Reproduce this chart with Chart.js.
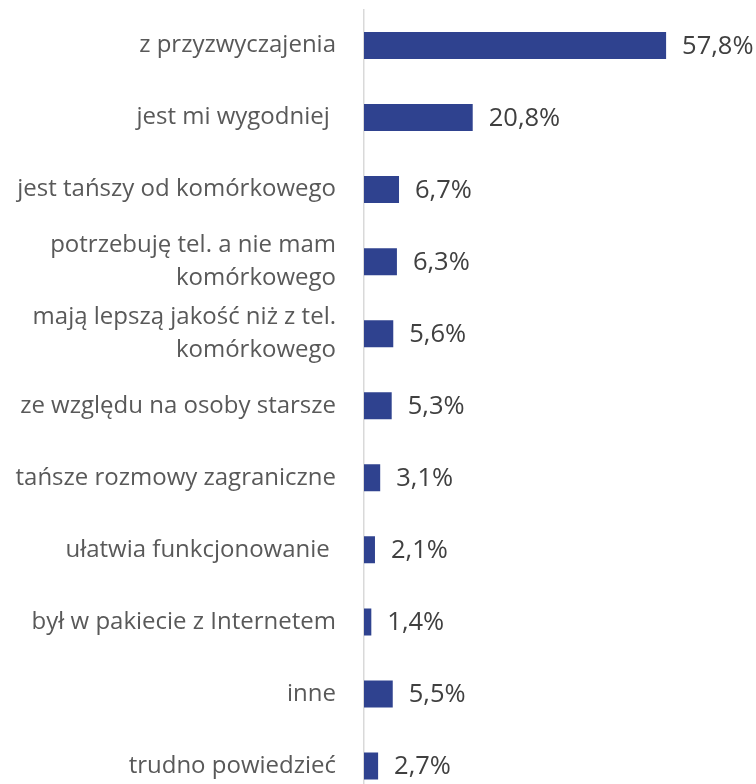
<!DOCTYPE html>
<html lang="pl">
<head>
<meta charset="utf-8">
<title>Powody posiadania telefonu stacjonarnego</title>
<script src="https://cdn.jsdelivr.net/npm/chart.js@4/dist/chart.umd.min.js"></script>
<style>
  html, body { margin: 0; padding: 0; background: #ffffff; overflow: hidden; }
  #wrap { position: relative; width: 756px; height: 802px; }
</style>
</head>
<body>
<div id="wrap"><canvas id="chart"></canvas></div>
<script>
// Category labels (multi-line entries given as arrays)
const categories = [
  'z przyzwyczajenia',
  'jest mi wygodniej ',
  'jest tańszy od komórkowego',
  ['potrzebuję tel. a nie mam', 'komórkowego'],
  ['mają lepszą jakość niż z tel.', 'komórkowego'],
  'ze względu na osoby starsze',
  'tańsze rozmowy zagraniczne',
  'ułatwia funkcjonowanie ',
  'był w pakiecie z Internetem',
  'inne',
  'trudno powiedzieć'
];

// Share of answers, percent
const shares = [57.8, 20.8, 6.7, 6.3, 5.6, 5.3, 3.1, 2.1, 1.4, 5.5, 2.7];

const barColor = '#2F428F';
const labelFont = '"Open Sans", sans-serif';

// Percent value written to the right of each bar
const valueLabels = {
  id: 'valueLabels',
  afterDatasetsDraw(chart) {
    const ctx = chart.ctx;
    const meta = chart.getDatasetMeta(0);
    ctx.save();
    ctx.font = '25.5px ' + labelFont;
    ctx.fillStyle = '#404040';
    ctx.textAlign = 'left';
    ctx.textBaseline = 'middle';
    meta.data.forEach((bar, i) => {
      const v = chart.data.datasets[0].data[i];
      const txt = v.toFixed(1).replace('.', ',') + '%';
      ctx.fillText(txt, bar.x + 16, bar.y + 1);
    });
    ctx.restore();
  }
};

new Chart(document.getElementById('chart'), {
  type: 'bar',
  data: {
    labels: categories,
    datasets: [{
      data: shares,
      backgroundColor: barColor,
      borderWidth: 0,
      categoryPercentage: 1,
      barPercentage: 0.375
    }]
  },
  options: {
    indexAxis: 'y',
    responsive: true,
    maintainAspectRatio: false,
    animation: false,
    layout: { padding: { top: 9.5, right: 0, bottom: 0, left: 0 } },
    plugins: {
      legend: { display: false },
      tooltip: { enabled: false }
    },
    scales: {
      x: {
        display: false,
        min: 0,
        max: 75,
        grid: { display: false }
      },
      y: {
        grid: { display: false, drawTicks: false },
        border: { display: true, color: '#D9D9D9', width: 1.5 },
        afterFit(scale) {
          scale.width = 364;
          scale.paddingTop = 0;
          scale.paddingBottom = 0;
        },
        ticks: {
          padding: 28,
          color: '#595959',
          font: { family: labelFont, size: 24, lineHeight: 1.375 }
        }
      }
    }
  },
  plugins: [valueLabels]
});
</script>
</body>
</html>
